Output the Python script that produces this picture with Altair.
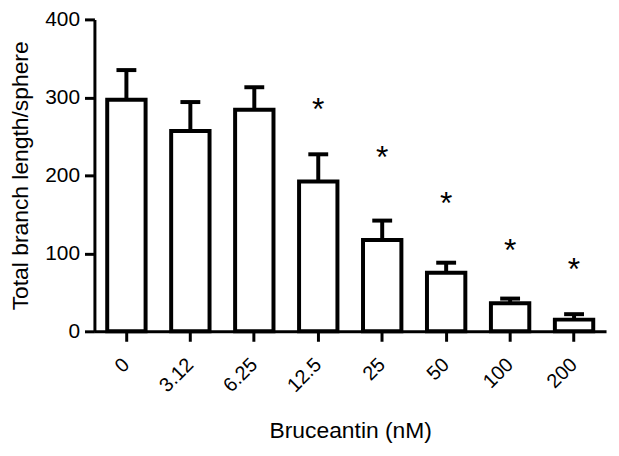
import altair as alt
import pandas as pd

doses = ["0", "3.12", "6.25", "12.5", "25", "50", "100", "200"]
means = [297, 257, 284, 192, 117, 75, 36, 15]
errs_top = [335, 294, 313, 227, 142, 88, 42, 22]
star_doses = ["12.5", "25", "50", "100", "200"]
star_y = [294, 232, 173, 113, 89]

df = pd.DataFrame({"dose": doses, "mean": means, "err": errs_top})
sdf = pd.DataFrame({"dose": star_doses, "y": star_y, "t": ["*"] * len(star_doses)})

FONT = "Liberation Sans"

xaxis = alt.Axis(title="Bruceantin (nM)", labelAngle=-45, labelAlign="right",
                 labelBaseline="middle", labelPadding=20, labelFontSize=20,
                 titleFontSize=23, titlePadding=24)
yaxis = alt.Axis(title="Total branch length/sphere", values=[0, 100, 200, 300, 400],
                 labelFontSize=21, titleFontSize=23, labelPadding=5, titlePadding=12)
yscale = alt.Scale(domain=[0, 400])
x = alt.X("dose:N", sort=doses,
          scale=alt.Scale(paddingInner=0.4, paddingOuter=0.2), axis=xaxis)
y = alt.Y("mean:Q", scale=yscale, axis=yaxis)

base = alt.Chart(df)
rule = base.mark_rule(color="black", strokeWidth=4, opacity=1).encode(x=x, y=y, y2="err:Q")
cap = base.mark_tick(color="black", thickness=4, size=20, orient="horizontal", opacity=1).encode(
    x=x, y=alt.Y("err:Q", scale=yscale, axis=yaxis))
bars = base.mark_bar(fill="white", stroke="black", strokeWidth=4, strokeJoin="miter").encode(x=x, y=y)
stars = alt.Chart(sdf).mark_text(fontSize=32, font=FONT, color="black", baseline="middle",
                                 dy=8).encode(
    x=x, y=alt.Y("y:Q", scale=yscale, axis=yaxis), text="t:N")

chart = alt.layer(rule, cap, bars, stars).properties(
    width=515, height=314,
    autosize=alt.AutoSizeParams(type="none"),
    padding={"left": 87, "top": 10, "right": 5, "bottom": 120},
).configure_view(stroke=None).configure_axis(
    tickSize=10, tickWidth=3, domainWidth=3, tickColor="black", domainColor="black",
    labelColor="black", titleColor="black", labelFont=FONT, titleFont=FONT,
    titleFontWeight="normal", grid=False,
)

chart.save("out.html", embed_options={"renderer": "svg", "actions": False})
